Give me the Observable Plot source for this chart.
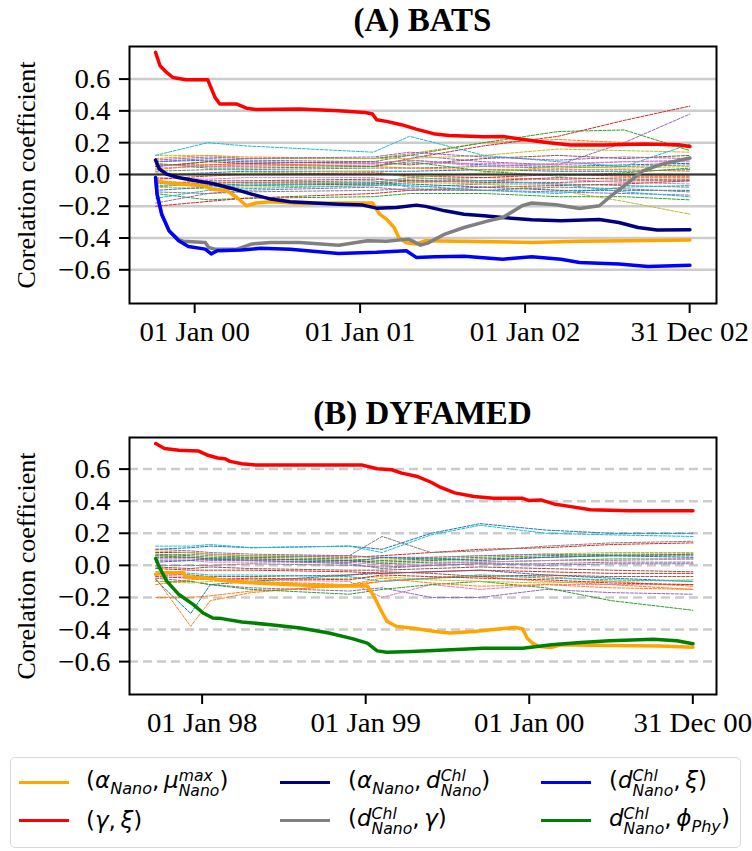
<!DOCTYPE html>
<html><head><meta charset="utf-8">
<script src="https://cdn.jsdelivr.net/npm/d3@7"></script>
<script src="https://cdn.jsdelivr.net/npm/@observablehq/plot@0.6"></script>
<style>
body{margin:0;background:#fff;}
#root{position:relative;width:752px;height:851px;overflow:hidden;font-family:"Liberation Serif","Times New Roman",serif;color:#000;}
#root svg text{font-family:"Liberation Serif","Times New Roman",serif;font-size:28px;}
.title{position:absolute;left:129px;width:587px;text-align:center;font-weight:bold;font-size:33px;line-height:1;}
.ylab{position:absolute;font-size:26px;line-height:1;white-space:nowrap;transform:translate(-50%,-50%) rotate(-90deg);}
.panel{position:absolute;left:0;}
#legend{position:absolute;left:10px;top:757px;width:731px;height:91px;border:1.5px solid #d9d9d9;border-radius:5px;box-sizing:border-box;}
.lline{position:absolute;height:3px;width:50px;}
.ltext{position:absolute;height:36px;display:flex;align-items:center;white-space:nowrap;font-family:"DejaVu Sans",sans-serif;font-style:italic;font-size:23px;}
.up{font-style:normal;}
.ltext sub{font-size:0.7em;vertical-align:-0.35em;line-height:0;}
.st{display:inline-flex;flex-direction:column;vertical-align:middle;font-size:0.68em;line-height:1;margin-top:0.15em;}
</style></head>
<body><div id="root"></div>
<script>
// ---------- tick values ----------
const yTicks = [-0.6, -0.4, -0.2, 0, 0.2, 0.4, 0.6];
const batsXTicks = ["2000-01-01", "2001-01-01", "2002-01-01", "2002-12-31"];
const dyfXTicks = ["1998-01-01", "1999-01-01", "2000-01-01", "2000-12-31"];
const tab10 = ["#1f77b4","#ff7f0e","#2ca02c","#d62728","#9467bd","#8c564b","#e377c2","#7f7f7f","#bcbd22","#17becf"];

// ---------- (A) BATS highlighted series (decimal year, value) ----------
const batsRedT = [1999.763,1999.79,1999.83,1999.868,1999.947,2000.079,2000.123,2000.152,2000.255,2000.313,2000.372,2000.635,2000.87,2001.03,2001.075,2001.10,2001.16,2001.25,2001.34,2001.455,2001.54,2001.75,2001.865,2001.98,2002.13,2002.275,2002.48,2002.72,2002.93,2002.999];
const batsRedV = [0.768,0.684,0.642,0.61,0.596,0.596,0.485,0.443,0.443,0.417,0.409,0.411,0.40,0.39,0.38,0.344,0.334,0.313,0.285,0.254,0.245,0.237,0.239,0.222,0.201,0.185,0.185,0.191,0.187,0.176];
const batsNavyT = [1999.763,1999.786,1999.83,1999.90,1999.99,2000.108,2000.225,2000.343,2000.46,2000.577,2000.723,2000.87,2001.016,2001.10,2001.22,2001.34,2001.397,2001.514,2001.63,2001.75,2001.865,2002.04,2002.217,2002.45,2002.568,2002.685,2002.80,2002.999];
const batsNavyV = [0.09,0.034,0.002,-0.019,-0.036,-0.057,-0.088,-0.124,-0.155,-0.172,-0.18,-0.187,-0.193,-0.212,-0.208,-0.193,-0.201,-0.229,-0.25,-0.26,-0.271,-0.285,-0.292,-0.283,-0.302,-0.334,-0.35,-0.348];
const batsOrangeT = [1999.763,1999.82,1999.933,2000.064,2000.094,2000.196,2000.255,2000.313,2000.372,2000.46,2000.635,2000.87,2001.075,2001.118,2001.16,2001.206,2001.236,2001.28,2001.34,2001.397,2001.60,2002.04,2002.33,2002.62,2002.999];
const batsOrangeV = [-0.04,-0.052,-0.061,-0.073,-0.092,-0.103,-0.145,-0.197,-0.18,-0.172,-0.183,-0.18,-0.18,-0.25,-0.281,-0.334,-0.40,-0.43,-0.438,-0.417,-0.42,-0.428,-0.42,-0.417,-0.413];
const batsGrayT = [1999.763,1999.772,1999.80,1999.845,1999.903,1999.93,2000.064,2000.085,2000.123,2000.255,2000.343,2000.46,2000.635,2000.87,2001.045,2001.16,2001.294,2001.367,2001.41,2001.514,2001.63,2001.777,2001.865,2001.982,2002.04,2002.187,2002.33,2002.45,2002.51,2002.627,2002.714,2002.83,2002.999];
const batsGrayV = [-0.019,-0.124,-0.25,-0.355,-0.41,-0.42,-0.428,-0.46,-0.47,-0.47,-0.438,-0.428,-0.428,-0.445,-0.417,-0.42,-0.407,-0.445,-0.432,-0.375,-0.334,-0.292,-0.271,-0.197,-0.18,-0.191,-0.214,-0.197,-0.145,-0.05,0.023,0.065,0.103];
const batsBlueT = [1999.763,1999.772,1999.80,1999.845,1999.903,1999.962,2000.064,2000.10,2000.137,2000.284,2000.40,2000.577,2000.87,2001.10,2001.28,2001.34,2001.455,2001.63,2001.865,2002.04,2002.217,2002.33,2002.568,2002.745,2002.999];
const batsBlueV = [-0.019,-0.124,-0.25,-0.355,-0.417,-0.453,-0.47,-0.50,-0.48,-0.476,-0.464,-0.47,-0.497,-0.49,-0.48,-0.522,-0.518,-0.514,-0.533,-0.518,-0.533,-0.554,-0.564,-0.579,-0.571];

// ---------- (A) BATS other parameter pairs (thin dashed) ----------
const batsBgT = [1999.763,2000.08,2000.3,2001.08,2001.3,2001.75,2002.2,2002.6,2002.999];
const batsBgV = [
  [0.08,0.09,0.08,0.07,0.09,0.06,0.05,0.06,0.07],
  [0.10,0.12,0.11,0.10,0.13,0.20,0.22,0.20,0.17],
  [0.05,0.08,0.10,0.10,0.12,0.20,0.27,0.28,0.15],
  [0.05,0.08,0.07,0.05,0.10,0.18,0.24,0.34,0.43],
  [0.08,0.10,0.09,0.08,0.12,0.08,0.06,0.20,0.38],
  [0.06,0.06,0.07,0.08,0.06,0.10,0.12,0.10,0.12],
  [0.04,0.05,0.05,0.06,0.07,0.07,0.06,0.08,0.09],
  [0.02,0.03,0.03,0.04,0.04,0.05,0.04,0.05,0.06],
  [0.12,0.12,0.10,0.10,0.10,0.12,0.16,0.15,0.14],
  [0.12,0.20,0.18,0.14,0.24,0.12,0.08,0.05,0.19],
  [0.00,0.01,0.02,0.02,0.02,0.03,0.02,0.02,0.03],
  [-0.04,-0.06,-0.05,-0.05,-0.03,-0.02,-0.03,-0.02,-0.02],
  [-0.12,-0.16,-0.15,-0.14,-0.12,-0.12,-0.14,-0.14,-0.16],
  [-0.20,-0.17,-0.15,-0.12,-0.10,-0.08,-0.07,-0.06,-0.04],
  [-0.18,-0.12,-0.10,-0.08,-0.10,-0.10,-0.11,-0.12,-0.13],
  [-0.06,-0.04,-0.04,-0.03,-0.04,-0.05,-0.05,-0.04,-0.04],
  [-0.02,-0.03,-0.02,-0.02,-0.05,-0.04,-0.03,-0.05,-0.06],
  [-0.08,-0.05,-0.05,-0.04,-0.08,-0.06,-0.06,-0.07,-0.08],
  [-0.08,-0.09,-0.08,-0.07,-0.05,-0.06,-0.10,-0.17,-0.25],
  [-0.15,-0.10,-0.09,-0.07,-0.07,-0.10,-0.12,-0.08,-0.07],
  [-0.10,-0.08,-0.07,-0.06,-0.06,-0.08,-0.10,-0.10,-0.10],
  [0.03,0.06,0.06,0.05,0.04,0.03,0.03,0.03,0.02],
  [0.07,0.04,0.04,0.05,0.08,0.02,-0.01,0.01,0.04],
  [-0.03,-0.01,0.00,0.01,-0.01,-0.02,0.00,-0.01,-0.01],
  [0.09,0.11,0.10,0.11,0.14,0.11,0.09,0.11,0.10],
  [-0.05,-0.07,-0.06,-0.06,-0.04,-0.04,-0.02,-0.03,-0.03],
  [0.06,0.05,0.06,0.07,0.09,0.05,0.07,0.08,0.08],
  [-0.11,-0.12,-0.11,-0.10,-0.09,-0.10,-0.08,-0.09,-0.11],
  [0.01,0.00,0.01,0.02,-0.02,0.01,0.05,0.04,0.05],
  [-0.07,-0.06,-0.07,-0.05,-0.02,-0.04,-0.06,-0.11,-0.14]
];

// ---------- (B) DYFAMED highlighted series ----------
const dyfRedT = [1997.716,1997.77,1997.858,1997.976,1998.036,1998.095,1998.14,1998.17,1998.243,1998.33,1998.98,1999.07,1999.16,1999.22,1999.31,1999.40,1999.456,1999.544,1999.663,1999.78,1999.96,2000.0,2000.07,2000.15,2000.254,2000.373,2000.61,2000.998];
const dyfRedV = [0.759,0.728,0.717,0.713,0.686,0.669,0.665,0.648,0.633,0.625,0.625,0.602,0.596,0.575,0.556,0.518,0.487,0.452,0.429,0.418,0.418,0.404,0.408,0.383,0.366,0.347,0.341,0.341];
const dyfOrangeT = [1997.716,1997.77,1997.888,1997.90,1998.065,1998.12,1998.243,1998.42,1998.60,1998.834,1999.01,1999.056,1999.086,1999.13,1999.19,1999.28,1999.426,1999.515,1999.663,1999.81,1999.914,1999.96,1999.988,2000.02,2000.06,2000.13,2000.195,2000.5,2000.8,2000.998];
const dyfOrangeV = [-0.056,-0.046,-0.046,-0.071,-0.082,-0.094,-0.105,-0.115,-0.123,-0.128,-0.128,-0.203,-0.266,-0.349,-0.381,-0.391,-0.412,-0.422,-0.412,-0.397,-0.387,-0.397,-0.454,-0.485,-0.506,-0.512,-0.495,-0.5,-0.502,-0.51];
const dyfGreenT = [1997.716,1997.74,1997.784,1997.858,1997.947,1998.006,1998.065,1998.12,1998.243,1998.42,1998.60,1998.775,1998.923,1999.01,1999.07,1999.13,1999.28,1999.485,1999.72,1999.96,2000.136,2000.314,2000.49,2000.757,2000.9,2000.998];
const dyfGreenV = [0.042,-0.015,-0.098,-0.182,-0.245,-0.297,-0.328,-0.332,-0.353,-0.37,-0.391,-0.422,-0.458,-0.485,-0.533,-0.541,-0.537,-0.527,-0.516,-0.516,-0.495,-0.481,-0.47,-0.46,-0.47,-0.489];

// ---------- (B) DYFAMED other parameter pairs (thin dashed) ----------
const dyfBgT = [1997.716,1997.93,1998.05,1998.3,1998.9,1999.1,1999.4,1999.7,2000.1,2000.5,2000.998];
const dyfBgV = [
  [0.10,0.11,0.12,0.11,0.12,0.10,0.20,0.26,0.22,0.20,0.20],
  [-0.08,-0.38,-0.22,-0.17,-0.12,-0.10,-0.08,-0.07,-0.10,-0.12,-0.15],
  [0.06,0.05,0.04,0.04,0.03,0.01,0.02,0.02,0.03,0.04,0.04],
  [0.08,0.08,0.07,0.06,0.05,0.06,0.08,0.10,0.11,0.13,0.14],
  [-0.08,-0.10,-0.12,-0.14,-0.16,-0.14,-0.20,-0.20,-0.15,-0.17,-0.18],
  [0.05,0.05,0.04,0.04,0.03,0.02,0.03,0.04,0.05,0.06,0.07],
  [-0.06,-0.07,-0.08,-0.09,-0.10,-0.20,-0.12,-0.15,-0.12,-0.12,-0.12],
  [0.06,0.07,0.06,0.05,0.06,0.18,0.08,0.09,0.12,0.14,0.15],
  [0.09,0.08,0.07,0.06,0.06,0.04,0.05,0.06,0.07,0.08,0.08],
  [0.12,0.12,0.13,0.11,0.12,0.08,0.19,0.25,0.20,0.19,0.18],
  [-0.09,-0.30,-0.12,-0.10,-0.06,-0.05,-0.04,-0.03,-0.06,-0.08,-0.10],
  [-0.20,-0.20,-0.19,-0.16,-0.13,-0.10,-0.08,-0.06,-0.07,-0.10,-0.13],
  [-0.10,-0.10,-0.12,-0.15,-0.18,-0.15,-0.12,-0.10,-0.14,-0.22,-0.28],
  [-0.02,-0.03,-0.03,-0.03,-0.04,-0.05,-0.04,-0.03,-0.04,-0.05,-0.05],
  [0.10,0.09,0.08,0.07,0.06,0.05,0.05,0.06,0.07,0.06,0.06],
  [-0.05,-0.06,-0.07,-0.07,-0.06,-0.04,-0.05,-0.07,-0.06,-0.07,-0.07],
  [0.03,0.03,0.02,0.02,0.02,0.00,0.01,0.02,0.03,0.03,0.04],
  [0.00,0.00,0.00,0.01,0.00,-0.01,0.00,0.01,0.01,0.02,0.02],
  [-0.10,-0.11,-0.10,-0.09,-0.08,-0.07,-0.09,-0.10,-0.11,-0.10,-0.09],
  [-0.04,-0.05,-0.06,-0.06,-0.07,-0.10,-0.08,-0.06,-0.08,-0.09,-0.10],
  [0.02,0.03,0.04,0.03,0.02,0.05,0.04,0.03,0.05,0.06,0.05],
  [-0.12,-0.09,-0.08,-0.10,-0.12,-0.08,-0.11,-0.13,-0.12,-0.14,-0.15],
  [0.07,0.06,0.05,0.05,0.04,0.03,0.04,0.05,0.06,0.07,0.07],
  [-0.07,-0.08,-0.09,-0.08,-0.09,-0.06,-0.07,-0.08,-0.09,-0.11,-0.12],
  [0.04,0.04,0.03,0.03,0.01,-0.02,0.00,0.01,0.00,0.01,0.01],
  [-0.01,-0.02,-0.01,-0.02,-0.03,-0.03,-0.02,-0.01,-0.02,-0.03,-0.04]
];

// ---------- helpers ----------
function toDate(y) {
  const yr = Math.floor(y);
  const s = Date.UTC(yr, 0, 1), e = Date.UTC(yr + 1, 0, 1);
  return new Date(s + (y - yr) * (e - s));
}
function rows(T, V) { return T.map((t, i) => ({t: toDate(t), v: V[i]})); }
const SERIF = "'Liberation Serif', 'Times New Roman', serif";

function panel({main, bgT, bgV, xDomain, yDomain, xTicks, dashedGrid, zeroLine, height, marginTop}) {
  const marks = [];
  marks.push(Plot.ruleY(yTicks, {stroke: "#cccccc", strokeWidth: 2.5, strokeDasharray: dashedGrid ? "9,5" : null}));
  bgV.forEach((V, i) => {
    marks.push(Plot.line(rows(bgT, V), {x: "t", y: "v", stroke: tab10[i % 10], strokeWidth: 1, strokeDasharray: "3,1.5", clip: true}));
  });
  if (zeroLine) marks.push(Plot.ruleY([0], {stroke: "#333333", strokeWidth: 2}));
  main.forEach(m => {
    marks.push(Plot.line(rows(m.T, m.V), {x: "t", y: "v", stroke: m.color, strokeWidth: 3.5, clip: true}));
  });
  marks.push(Plot.frame({stroke: "black", strokeWidth: 2}));
  marks.push(Plot.axisX({ticks: xTicks.map(d => new Date(d + "T00:00:00Z")), tickFormat: d3.utcFormat("%d %b %y"), tickSize: 10, tickPadding: 8, strokeWidth: 2, fontSize: 28, fontFamily: SERIF, label: null}));
  marks.push(Plot.axisY({ticks: yTicks, tickFormat: d3.format(".1f"), tickSize: 10, tickPadding: 9, strokeWidth: 2, fontSize: 28, fontFamily: SERIF, label: null}));
  const svg = Plot.plot({
    width: 752, height, marginLeft: 129, marginRight: 36, marginTop, marginBottom: height - marginTop - 257,
    x: {type: "utc", domain: xDomain.map(toDate)},
    y: {domain: yDomain},
    style: {fontFamily: SERIF, fontSize: "28px", overflow: "visible"},
    marks
  });
  // widen tick labels slightly, as in the reference figure
  d3.select(svg).selectAll("text").each(function() {
    const tr = this.getAttribute("transform") || "";
    this.setAttribute("transform", tr + " scale(1.03,1)");
  });
  return svg;
}

const root = document.getElementById("root");

function addDiv(cls, html, css) {
  const d = document.createElement("div");
  d.className = cls; d.innerHTML = html; Object.assign(d.style, css); root.appendChild(d); return d;
}

// Panel A
addDiv("title", "(A) BATS", {top: "4px"});
const pA = panel({
  main: [
    {T: batsOrangeT, V: batsOrangeV, color: "#FFA500"},
    {T: batsRedT, V: batsRedV, color: "#FF0000"},
    {T: batsNavyT, V: batsNavyV, color: "#000080"},
    {T: batsGrayT, V: batsGrayV, color: "#808080"},
    {T: batsBlueT, V: batsBlueV, color: "#0000FF"}
  ],
  bgT: batsBgT, bgV: batsBgV,
  xDomain: [1999.605, 2003.16], yDomain: [-0.812, 0.805],
  xTicks: batsXTicks, dashedGrid: false, zeroLine: true, height: 315, marginTop: 6
});
pA.classList.add("panel"); pA.style.top = "40px"; root.appendChild(pA);
addDiv("ylab", "Corelation coefficient", {left: "27px", top: "175px"});

// Panel B
addDiv("title", "(B) DYFAMED", {top: "397px"});
const pB = panel({
  main: [
    {T: dyfOrangeT, V: dyfOrangeV, color: "#FFA500"},
    {T: dyfRedT, V: dyfRedV, color: "#FF0000"},
    {T: dyfGreenT, V: dyfGreenV, color: "#008000"}
  ],
  bgT: dyfBgT, bgV: dyfBgV,
  xDomain: [1997.556, 2001.142], yDomain: [-0.805, 0.797],
  xTicks: dyfXTicks, dashedGrid: true, zeroLine: false, height: 315, marginTop: 7
});
pB.classList.add("panel"); pB.style.top = "430px"; root.appendChild(pB);
addDiv("ylab", "Corelation coefficient", {left: "27px", top: "566px"});

// Legend
const leg = document.createElement("div"); leg.id = "legend"; root.appendChild(leg);
const dChl = '<i>d</i><span class="st"><span>Chl</span><span>Nano</span></span>';
const legendItems = [
  {color: "#FFA500", html: '<span class="up">(</span><i>α</i><sub>Nano</sub><span class="up">,&#8201;</span><i>μ</i><span class="st"><span>max</span><span>Nano</span></span><span class="up">)</span>'},
  {color: "#FF0000", html: '<span class="up">(</span><i>γ</i><span class="up">,&#8201;</span><i>ξ</i><span class="up">)</span>'},
  {color: "#000080", html: '<span class="up">(</span><i>α</i><sub>Nano</sub><span class="up">,&#8201;</span>' + dChl + '<span class="up">)</span>'},
  {color: "#808080", html: '<span class="up">(</span>' + dChl + '<span class="up">,&#8201;</span><i>γ</i><span class="up">)</span>'},
  {color: "#0000FF", html: '<span class="up">(</span>' + dChl + '<span class="up">,&#8201;</span><i>ξ</i><span class="up">)</span>'},
  {color: "#008000", html: dChl + '<span class="up">,&#8201;</span><i>ϕ</i><sub>Phy</sub><span class="up">)</span>'}
];
const colLine = [8, 269, 530], colText = [75, 337, 598], rowC = [24, 62];
legendItems.forEach((it, i) => {
  const c = Math.floor(i / 2), r = i % 2;
  const l = document.createElement("div"); l.className = "lline";
  Object.assign(l.style, {left: colLine[c] + "px", top: (rowC[r] - 1.5) + "px", background: it.color});
  leg.appendChild(l);
  const t = document.createElement("div"); t.className = "ltext";
  t.innerHTML = '<span>' + it.html + '</span>';
  Object.assign(t.style, {left: colText[c] + "px", top: (rowC[r] - 18) + "px"});
  leg.appendChild(t);
});
</script></body></html>
